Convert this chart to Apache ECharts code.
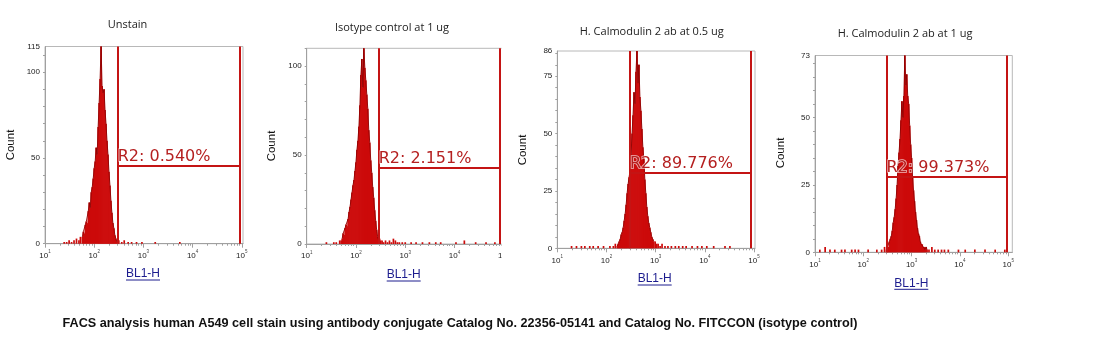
<!DOCTYPE html>
<html>
<head>
<meta charset="utf-8">
<script src="https://cdn.jsdelivr.net/npm/echarts@6/dist/echarts.min.js"></script>
<style>
html, body { margin: 0; padding: 0; background: #fff; }
#chart { width: 1095px; height: 353px; }
</style>
</head>
<body>
<div id="chart"></div>
<script>
// panel texts
var titles = ['Unstain', 'Isotype control at 1 ug', 'H. Calmodulin 2 ab at 0.5 ug', 'H. Calmodulin 2 ab at 1 ug'];
var gateText = ['R2: 0.540%', 'R2: 2.151%', 'R2: 89.776%', 'R2: 99.373%'];
var caption = 'FACS analysis human A549 cell stain using antibody conjugate Catalog No. 22356-05141 and Catalog No. FITCCON (isotype control)';

// R2 gate, x in log10(BL1-H), height in counts
var gateLeft = [2.478, 2.46, 2.478, 2.48];
var gateRight = [4.963, 4.92, 4.93, 4.98];
var gateHeight = [45.4, 42.7, 32.9, 28.0];

// axes
var yMax = [115, 110, 86, 73];
var yLabels = [[0, 50, 100, 115], [0, 50, 100], [0, 25, 50, 75, 86], [0, 25, 50, 73]];
var yTickStep = [10, 10, 5, 5];
var xDecades = [1, 2, 3, 4, 5]; // 10^1 .. 10^5
var xMax = [5.024, 5.08, 5.02, 5.085];

// histograms: [log10(BL1-H), count]
var unstainPeak = [[1.76,4],[1.78,7],[1.80,6],[1.82,11],[1.84,13],[1.86,12],[1.88,19],[1.90,24],[1.92,21],[1.94,30],[1.96,33],[1.98,38],[2.00,44],[2.02,48],[2.04,56],[2.06,52],[2.08,68],[2.10,82],[2.12,96],[2.14,115],[2.16,92],[2.18,88],[2.20,90],[2.22,78],[2.24,70],[2.26,60],[2.28,52],[2.30,42],[2.32,34],[2.34,25],[2.36,18],[2.38,12],[2.40,9],[2.42,5],[2.44,3],[2.46,1]];
var unstainSparse = [[1.39,1],[1.44,1],[1.49,2],[1.54,1],[1.59,2],[1.64,3],[1.69,2],[1.72,4],[2.50,2],[2.56,1],[2.61,2],[2.69,1],[2.76,1],[2.86,1],[2.97,1],[3.24,1],[3.74,1]];

var isotypePeak = [[1.72,3],[1.74,6],[1.76,5],[1.78,9],[1.80,11],[1.82,10],[1.84,14],[1.86,18],[1.88,21],[1.90,25],[1.92,29],[1.94,33],[1.96,36],[1.98,41],[2.00,46],[2.02,53],[2.04,58],[2.06,66],[2.08,78],[2.10,95],[2.12,104],[2.14,88],[2.16,110],[2.18,99],[2.20,92],[2.22,84],[2.24,76],[2.26,64],[2.28,57],[2.30,47],[2.32,40],[2.34,32],[2.36,26],[2.38,19],[2.40,13],[2.42,8],[2.44,4],[2.46,2]];
var isotypeSparse = [[1.40,1],[1.55,1],[1.60,1],[1.67,2],[1.70,2],[2.48,3],[2.50,2],[2.53,2],[2.56,1],[2.60,2],[2.64,1],[2.68,2],[2.72,1],[2.76,3],[2.80,2],[2.84,1],[2.88,1],[2.94,1],[3.00,1],[3.12,1],[3.22,1],[3.35,1],[3.49,1],[3.62,1],[3.72,1],[4.03,1],[4.20,2],[4.43,1],[4.64,1],[4.82,1]];

var cal05Peak = [[2.22,1],[2.24,2],[2.26,3],[2.28,4],[2.30,6],[2.32,7],[2.34,9],[2.36,12],[2.38,15],[2.40,19],[2.42,24],[2.44,28],[2.46,31],[2.48,34],[2.50,41],[2.52,50],[2.54,58],[2.56,68],[2.58,63],[2.60,77],[2.62,86],[2.64,72],[2.66,80],[2.68,66],[2.70,60],[2.72,52],[2.74,44],[2.76,39],[2.78,30],[2.80,24],[2.82,18],[2.84,14],[2.86,11],[2.88,9],[2.90,7],[2.92,5],[2.94,4],[2.96,3]];
var cal05Sparse = [[1.29,1],[1.39,1],[1.49,1],[1.56,1],[1.66,1],[1.73,1],[1.83,1],[1.94,1],[2.07,1],[2.14,1],[2.18,2],[2.99,3],[3.02,2],[3.05,2],[3.09,1],[3.13,2],[3.19,1],[3.25,1],[3.32,1],[3.40,1],[3.47,1],[3.55,1],[3.62,1],[3.74,1],[3.85,1],[3.94,1],[4.04,1],[4.18,1],[4.41,1],[4.51,1]];

var cal1Peak = [[2.48,1],[2.50,2],[2.52,2],[2.54,4],[2.56,5],[2.58,6],[2.60,8],[2.62,11],[2.64,13],[2.66,16],[2.68,20],[2.70,25],[2.72,32],[2.74,37],[2.76,42],[2.78,49],[2.80,56],[2.82,50],[2.84,58],[2.86,73],[2.88,62],[2.90,66],[2.92,58],[2.94,55],[2.96,47],[2.98,40],[3.00,35],[3.02,28],[3.04,23],[3.06,19],[3.08,15],[3.10,12],[3.12,9],[3.14,7],[3.16,6],[3.18,4],[3.20,3],[3.22,3],[3.24,2],[3.26,2],[3.28,1],[3.30,2],[3.32,1]];
var cal1Sparse = [[1.10,1],[1.21,2],[1.31,1],[1.41,1],[1.55,1],[1.62,1],[1.76,1],[1.83,1],[1.90,1],[2.10,1],[2.28,1],[2.38,1],[2.44,2],[3.36,1],[3.42,2],[3.48,1],[3.55,1],[3.62,1],[3.68,1],[3.76,1],[3.97,1],[4.11,1],[4.31,1],[4.52,1],[4.73,1],[4.93,1]];

var peaks = [unstainPeak, isotypePeak, cal05Peak, cal1Peak];
var sparse = [unstainSparse, isotypeSparse, cal05Sparse, cal1Sparse];

// pixel layout of the four plots
var grids = [
  { left: 45, top: 46.5, width: 198, height: 197.2 },
  { left: 306.7, top: 48.3, width: 201, height: 195.7 },
  { left: 557.3, top: 51, width: 197.7, height: 197.3 },
  { left: 815, top: 55.5, width: 197.3, height: 196.8 }
];
var titlePos = [[127.5, 25], [392, 28], [651.7, 31.5], [905, 33.5]];
var countPos = [[11, 145], [272, 146], [523.3, 150], [780.5, 153]];
var xNamePos = [[143, 274], [403.7, 275], [654.7, 279], [911.3, 283.3]];

var minorTicks = [];
for (var d = 1; d < 5; d++) {
  for (var k = 1; k < 10; k++) minorTicks.push(d + Math.log10(k));
}
minorTicks.push(5);

var xAxis = [], yAxis = [], series = [], graphic = [];
for (var i = 0; i < 4; i++) {
  var yTicks = [];
  for (var v = 0; v <= yMax[i]; v += yTickStep[i]) yTicks.push(v);
  xAxis.push({
    gridIndex: i, type: 'value', min: 1, max: xMax[i], position: 'bottom',
    axisLine: { show: true, lineStyle: { color: '#a0a0a0', width: 1 } },
    axisTick: { show: true, customValues: minorTicks, length: 2, lineStyle: { color: '#a0a0a0' } },
    axisLabel: { show: false },
    splitLine: { show: false }
  });
  xAxis.push({
    gridIndex: i, type: 'value', min: 1, max: xMax[i], position: 'bottom',
    axisLine: { show: false },
    axisTick: { show: true, customValues: xDecades, length: 4, lineStyle: { color: '#a0a0a0' } },
    axisLabel: {
      show: true, customValues: xDecades, margin: 6,
      formatter: function (val) { return '{b|10}{s|' + Math.round(val) + '}'; },
      rich: {
        b: { fontSize: 8, fontFamily: 'Liberation Sans', color: '#222' },
        s: { fontSize: 4.5, fontFamily: 'Liberation Sans', color: '#444', padding: [0, 0, 7, 0] }
      }
    },
    splitLine: { show: false }
  });
  yAxis.push({
    gridIndex: i, type: 'value', min: 0, max: yMax[i],
    axisLine: { show: true, lineStyle: { color: '#a0a0a0', width: 1 } },
    axisTick: { show: true, customValues: yTicks, length: 2, lineStyle: { color: '#a0a0a0' } },
    axisLabel: { show: true, customValues: yLabels[i], fontSize: 8, fontFamily: 'Liberation Sans', color: '#222', margin: 5 },
    splitLine: { show: false }
  });

  series.push({
    type: 'bar', xAxisIndex: i * 2, yAxisIndex: i,
    data: peaks[i].concat(sparse[i]),
    barWidth: 1.7,
    itemStyle: { color: '#cc0a0a' },
    silent: true,
    markLine: {
      silent: true, symbol: ['none', 'none'], animation: false, z: 10,
      lineStyle: { color: '#c41414', width: 2, type: 'solid' },
      label: { show: false },
      emphasis: { disabled: true },
      data: [
        { xAxis: gateLeft[i] },
        { xAxis: gateRight[i] },
        [
          {
            coord: [gateLeft[i], gateHeight[i]],
            label: {
              show: true, position: 'insideStartTop', formatter: gateText[i], distance: [0, 1],
              color: '#b52020', fontSize: 16, fontFamily: 'DejaVu Sans',
              textBorderColor: 'rgba(255,255,255,0.7)', textBorderWidth: 1.5
            }
          },
          { coord: [gateRight[i], gateHeight[i]] }
        ]
      ]
    }
  });
  series.push({
    type: 'line', xAxisIndex: i * 2, yAxisIndex: i,
    data: peaks[i], symbol: 'none', silent: true,
    lineStyle: { color: '#8e0000', width: 0.9 }
  });

  graphic.push({
    type: 'text', x: titlePos[i][0], y: titlePos[i][1],
    style: { text: titles[i], font: '11px "Open Sans"', fill: '#222', align: 'center', verticalAlign: 'middle' }
  });
  graphic.push({
    type: 'text', x: countPos[i][0], y: countPos[i][1], rotation: Math.PI / 2,
    style: { text: 'Count', font: '11.5px "Liberation Sans"', fill: '#111', align: 'center', verticalAlign: 'middle' }
  });
  graphic.push({
    type: 'text', x: xNamePos[i][0], y: xNamePos[i][1],
    style: { text: 'BL1-H', font: '12px "Liberation Sans"', fill: '#1c1c8e', align: 'center', verticalAlign: 'middle' }
  });
  graphic.push({
    type: 'line',
    shape: { x1: xNamePos[i][0] - 17, y1: xNamePos[i][1] + 6, x2: xNamePos[i][0] + 17, y2: xNamePos[i][1] + 6 },
    style: { stroke: '#1c1c8e', lineWidth: 1 }
  });
}

// the second panel is cropped at its right edge
graphic.push({
  type: 'rect', z: 100,
  shape: { x: 501.5, y: 40, width: 10, height: 250 },
  style: { fill: '#fff' }
});

// caption squeezed to the width it has in the picture
var captionFont = 'bold 13px "Liberation Sans"';
var ctx = document.createElement('canvas').getContext('2d');
ctx.font = captionFont;
var captionScale = 795 / ctx.measureText(caption).width;
graphic.push({
  type: 'text', x: 460, y: 323, scaleX: captionScale,
  style: { text: caption, font: captionFont, fill: '#111', align: 'center', verticalAlign: 'middle' }
});

var chart = echarts.init(document.getElementById('chart'));
chart.setOption({
  animation: false,
  backgroundColor: '#fff',
  grid: grids.map(function (g) {
    return { left: g.left, top: g.top, width: g.width, height: g.height, show: true, borderColor: '#b8b8b8', borderWidth: 1, backgroundColor: 'transparent' };
  }),
  xAxis: xAxis,
  yAxis: yAxis,
  series: series,
  graphic: graphic
});
</script>
</body>
</html>
